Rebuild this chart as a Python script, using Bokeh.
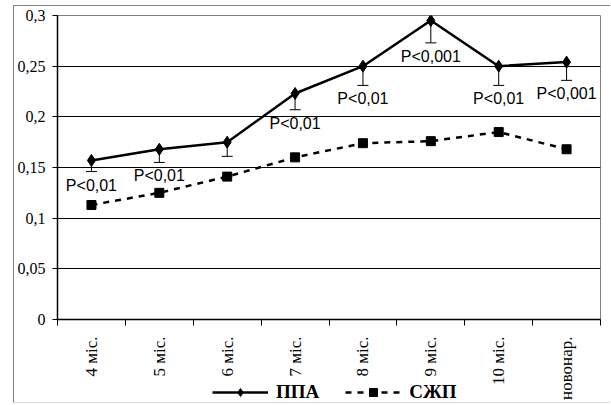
from math import pi
from bokeh.plotting import figure
from bokeh.layouts import column
from bokeh.models import (FixedTicker, Whisker, TeeHead, ColumnDataSource,
                          Legend, LegendItem)
from bokeh.core.properties import value
from bokeh.embed import file_html
from bokeh.resources import INLINE

categories = ["4 міс.", "5 міс.", "6 міс.", "7 міс.", "8 міс.", "9 міс.", "10 міс.", "новонар."]
ppa = [0.157, 0.168, 0.175, 0.223, 0.250, 0.295, 0.250, 0.254]
ppa_err = [0.011, 0.013, 0.014, 0.016, 0.019, 0.022, 0.019, 0.018]
szhp = [0.113, 0.125, 0.141, 0.160, 0.174, 0.176, 0.185, 0.168]
p_labels = ["P<0,01", "P<0,01", "", "P<0,01", "P<0,01", "P<0,001", "P<0,01", "P<0,001"]
series_names = ["ППА", "СЖП"]
y_ticks = [0, 0.05, 0.1, 0.15, 0.2, 0.25, 0.3]
y_tick_labels = ["0", "0,05", "0,1", "0,15", "0,2", "0,25", "0,3"]

x = list(range(1, len(categories) + 1))
lower = [v - e for v, e in zip(ppa, ppa_err)]

W, H = 596, 396
p = figure(width=W, height=H, x_range=(0.5, len(categories) + 0.5), y_range=(0, 0.3),
           output_backend="svg", toolbar_location=None,
           min_border_left=43, min_border_right=10, min_border_top=9, min_border_bottom=82)
p.outline_line_color = "#808080"
p.outline_line_width = 1

# grid
p.xgrid.visible = False
p.ygrid.ticker = FixedTicker(ticks=y_ticks)
p.ygrid.grid_line_color = "black"
p.ygrid.grid_line_width = 1

# y axis
p.yaxis.ticker = FixedTicker(ticks=y_ticks)
p.yaxis.major_label_overrides = {t: l for t, l in zip(y_ticks, y_tick_labels)}
p.yaxis.major_label_text_font = "Liberation Serif"
p.yaxis.major_label_text_font_size = "16px"
p.yaxis.major_label_text_color = "black"
p.yaxis.major_tick_in = 0
p.yaxis.major_tick_out = 5
p.yaxis.minor_tick_line_color = None
p.yaxis.axis_line_color = "black"
p.yaxis.axis_line_width = 1.5
p.yaxis.major_label_standoff = 7

# x axis
p.xaxis.ticker = FixedTicker(ticks=x, minor_ticks=[i - 0.5 for i in x] + [x[-1] + 0.5])
p.xaxis.major_label_overrides = {i: c for i, c in zip(x, categories)}
p.xaxis.major_label_orientation = pi / 2
p.xaxis.major_label_text_font = "Liberation Serif"
p.xaxis.major_label_text_font_size = "17px"
p.xaxis.major_label_text_color = "black"
p.xaxis.major_tick_in = 0
p.xaxis.major_tick_out = 0
p.xaxis.minor_tick_in = 0
p.xaxis.minor_tick_out = 6
p.xaxis.minor_tick_line_color = "black"
p.xaxis.axis_line_color = "black"
p.xaxis.axis_line_width = 1.5
p.xaxis.major_label_standoff = 11

# error bars
err_src = ColumnDataSource(dict(x=x, lower=lower, upper=ppa))
p.add_layout(Whisker(base="x", lower="lower", upper="upper", source=err_src,
                     upper_head=None,
                     lower_head=TeeHead(size=11, line_color="black", line_width=1),
                     line_color="black", line_width=1))

# series
p.line(x, ppa, line_color="black", line_width=2.5)
p.scatter(x, ppa, marker="diamond", size=12, color="black")
p.line(x, szhp, line_color="black", line_width=2.5, line_dash="6 6")
p.scatter(x, szhp, marker="square", size=9, color="black")

# significance labels
lab_src = ColumnDataSource(dict(x=x, y=lower, t=p_labels))
p.text(x="x", y="y", text="t", source=lab_src, text_align="center", text_baseline="top",
       y_offset=5, text_font=value("Liberation Sans"), text_font_size="16px", text_color="black")

# legend strip (overlapping the bottom of the chart, like the original);
# its series are drawn outside its visible range so only the legend shows
q = figure(width=W, height=24, x_range=(0.5, len(categories) + 0.5), y_range=(1, 2),
           x_axis_type=None, y_axis_type=None, output_backend="svg",
           toolbar_location=None, min_border=0)
q.outline_line_color = None
q.background_fill_alpha = 0
q.border_fill_alpha = 0
q.grid.visible = False
q.styles = {"margin-top": "-24px"}
ql1 = q.line(x, ppa, line_color="black", line_width=2.5)
qs1 = q.scatter(x, ppa, marker="diamond", size=12, color="black")
ql2 = q.line(x, szhp, line_color="black", line_width=2.5, line_dash="6 6")
qs2 = q.scatter(x, szhp, marker="square", size=9, color="black")
legend = Legend(items=[LegendItem(label=series_names[0], renderers=[ql1, qs1]),
                       LegendItem(label=series_names[1], renderers=[ql2, qs2])],
                location=(155, -1), orientation="horizontal",
                label_text_font="Liberation Serif", label_text_font_style="bold",
                label_text_font_size="19px", label_text_color="black",
                glyph_width=56, glyph_height=20,
                spacing=26, label_standoff=8, padding=0, margin=0,
                border_line_alpha=0, background_fill_alpha=0)
q.add_layout(legend)

layout = column(p, q, styles={"margin-left": "13px", "margin-top": "5px",
                              "border-left": "1px solid #808080",
                              "border-top": "1px solid #808080",
                              "border-bottom": "1px solid #d8d8d8"})

open("out.html", "w").write(file_html(layout, INLINE))
